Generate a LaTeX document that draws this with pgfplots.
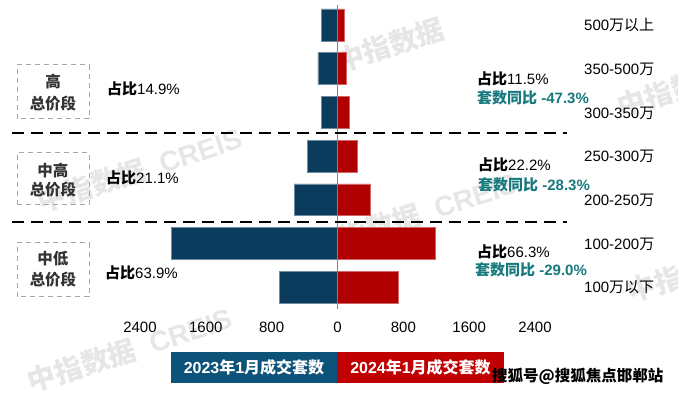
\documentclass[border=0pt]{standalone}
\usepackage{pgfplots}
\pgfplotsset{compat=1.18}
\usepackage{fontspec}
\setmainfont{Liberation Sans}
\newfontfamily\cjk{Noto Sans CJK SC}
\definecolor{barblue}{HTML}{0B3C5D}
\definecolor{barred}{HTML}{B00000}
\definecolor{legblue}{HTML}{0D5278}
\definecolor{legred}{HTML}{C00000}
\definecolor{tealtxt}{HTML}{17787D}
\definecolor{wm}{HTML}{E6E6E6}
\definecolor{boxtxt}{HTML}{333333}

\pgfplotstableread{
y  v23   v24
0  -705  743
1  -2017 1190
2  -526  396
3  -368  245
4  -198  148
5  -238  105
6  -195  80
}\bardata

\begin{document}
\begin{tikzpicture}[x=1pt,y=1pt,font=\fontsize{15}{18}\selectfont]
\path[use as bounding box] (0,0) rectangle (678,395);
\clip (0,0) rectangle (678,395);
% watermarks
\foreach \px/\py in {140/225, 415/180, 130/45, 720/320, 730/135}{
  \node[text=wm, rotate=18, font=\fontsize{28}{30}\selectfont\bfseries] at (\px,\py) {{\cjk 中指数据}\ \ CREIS};
}
\node[text=wm, rotate=18, font=\fontsize{28}{30}\selectfont\bfseries\cjk] at (390,350) {中指数据};

\begin{axis}[
  at={(140pt,86pt)}, anchor=south west,
  scale only axis, width=395pt, height=306pt,
  xmin=-2400, xmax=2400, ymin=-0.5, ymax=6.5,
  axis line style={draw=none},
  tick style={draw=none},
  ytick=\empty,
  xtick={-2400,-1600,-800,0,800,1600,2400},
  xticklabels={2400,1600,800,0,800,1600,2400},
  xticklabel style={font=\fontsize{15}{18}\selectfont, yshift=-9pt},
  clip=false,
]
\addplot[xbar, bar width=0.73, bar shift=0pt, fill=barblue, draw=barblue!60!white, line width=0.5pt] table[x=v23,y=y]{\bardata};
\addplot[xbar, bar width=0.73, bar shift=0pt, fill=barred, draw=barred!60!white, line width=0.5pt] table[x=v24,y=y]{\bardata};
\draw[gray, line width=0.9pt] (axis cs:0,-0.5) -- (axis cs:0,6.45);
\end{axis}

% dashed separators
\draw[black, line width=1.8pt, dash pattern=on 12pt off 7pt] (12,262) -- (567,262);
\draw[black, line width=1.8pt, dash pattern=on 12pt off 7pt] (12,173) -- (567,173);

% category labels
\foreach \yy/\lab in {370/{500{\cjk 万以上}}, 326/{350-500{\cjk 万}}, 282/{300-350{\cjk 万}}, 239/{250-300{\cjk 万}}, 195/{200-250{\cjk 万}}, 151/{100-200{\cjk 万}}, 108/{100{\cjk 万以下}}}{
  \node[anchor=west, inner sep=0pt] at (584,\yy) {\lab};
}

% left dashed boxes
\draw[gray!70, line width=1pt, dash pattern=on 5pt off 4pt] (17,276) rectangle (89,330);
\draw[gray!70, line width=1pt, dash pattern=on 5pt off 4pt] (17,190) rectangle (89,242);
\draw[gray!70, line width=1pt, dash pattern=on 5pt off 4pt] (17,98) rectangle (89,152);
\node[text=boxtxt, font=\fontsize{15.5}{18}\selectfont\bfseries\cjk] at (53,313) {高};
\node[text=boxtxt, font=\fontsize{15.5}{18}\selectfont\bfseries\cjk] at (53,291) {总价段};
\node[text=boxtxt, font=\fontsize{15.5}{18}\selectfont\bfseries\cjk] at (53,224) {中高};
\node[text=boxtxt, font=\fontsize{15.5}{18}\selectfont\bfseries\cjk] at (53,205) {总价段};
\node[text=boxtxt, font=\fontsize{15.5}{18}\selectfont\bfseries\cjk] at (53,136) {中低};
\node[text=boxtxt, font=\fontsize{15.5}{18}\selectfont\bfseries\cjk] at (53,115) {总价段};

% left shares
\node[anchor=west, inner sep=0pt] at (107,306) {{\cjk\bfseries 占比}14.9\%};
\node[anchor=west, inner sep=0pt] at (106,217) {{\cjk\bfseries 占比}21.1\%};
\node[anchor=west, inner sep=0pt] at (105,122) {{\cjk\bfseries 占比}63.9\%};

% right shares
\node[anchor=west, inner sep=0pt] at (477,316) {{\cjk\bfseries 占比}11.5\%};
\node[anchor=west, inner sep=0pt, text=tealtxt, font=\fontsize{15}{18}\selectfont\bfseries] at (477,297) {{\cjk 套数同比} -47.3\%};
\node[anchor=west, inner sep=0pt] at (478,230) {{\cjk\bfseries 占比}22.2\%};
\node[anchor=west, inner sep=0pt, text=tealtxt, font=\fontsize{15}{18}\selectfont\bfseries] at (478,210) {{\cjk 套数同比} -28.3\%};
\node[anchor=west, inner sep=0pt] at (477,143) {{\cjk\bfseries 占比}66.3\%};
\node[anchor=west, inner sep=0pt, text=tealtxt, font=\fontsize{15}{18}\selectfont\bfseries] at (475,125) {{\cjk 套数同比} -29.0\%};

% legend
\fill[legblue] (171,12) rectangle (337,43);
\fill[legred] (337,12) rectangle (504,43);
\node[text=white, font=\fontsize{16}{18}\selectfont\bfseries] at (254,27.5) {2023{\cjk 年}1{\cjk 月成交套数}};
\node[text=white, font=\fontsize{16}{18}\selectfont\bfseries] at (420.5,27.5) {2024{\cjk 年}1{\cjk 月成交套数}};

% source mark
\node[anchor=west, inner sep=0pt, text=black, font=\fontsize{15.5}{18}\selectfont\bfseries\cjk] at (492,19) {搜狐号@搜狐焦点邯郸站};
\end{tikzpicture}
\end{document}
